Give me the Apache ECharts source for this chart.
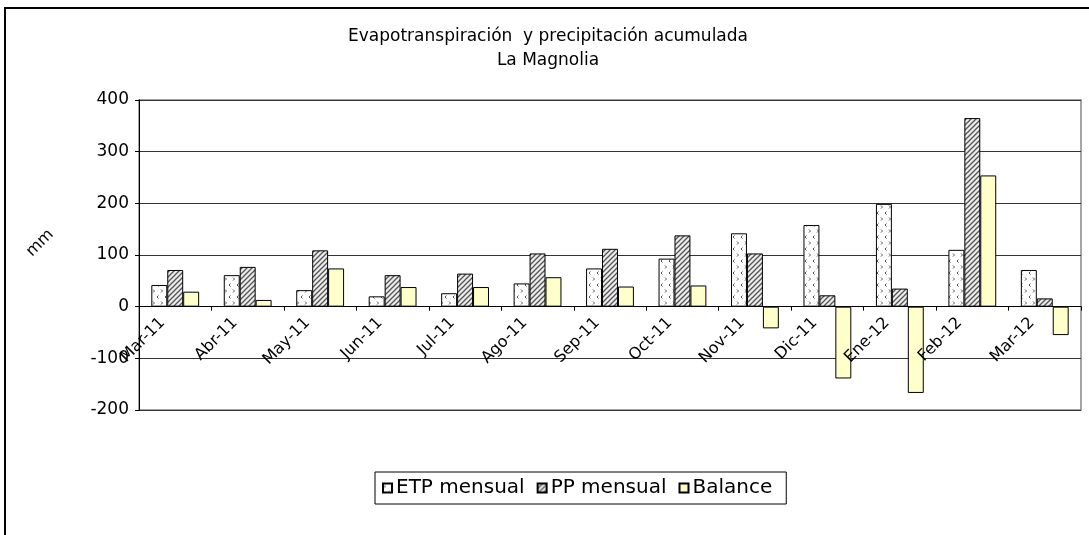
<!DOCTYPE html>
<html>
<head>
<meta charset="utf-8">
<script src="https://cdn.jsdelivr.net/npm/echarts@6/dist/echarts.min.js"></script>
<style>
html,body{margin:0;padding:0;background:#fff;}
#chart{width:1089px;height:535px;}
</style>
</head>
<body>
<div id="chart"></div>
<script>
const categories = ['Mar-11','Abr-11','May-11','Jun-11','Jul-11','Ago-11','Sep-11','Oct-11','Nov-11','Dic-11','Ene-12','Feb-12','Mar-12'];
const etpMensual = [42, 61, 32, 20, 26, 45, 74, 93, 142, 158, 199, 110, 71];
const ppMensual  = [71, 77, 109, 61, 64, 103, 112, 138, 103, 22, 35, 365, 16];
const balance    = [29, 13, 74, 38, 38, 57, 39, 41, -42, -139, -167, 254, -55];
const yTicks = [-200, -100, 0, 100, 200, 300, 400];
const titleLines = ['Evapotranspiración  y precipitación acumulada', 'La Magnolia'];
const seriesNames = ['ETP mensual', 'PP mensual', 'Balance'];
const yAxisName = 'mm';

function dotPattern() {
  const c = document.createElement('canvas');
  c.width = 8; c.height = 12;
  const g = c.getContext('2d');
  g.fillStyle = '#ffffff'; g.fillRect(0, 0, 8, 12);
  g.strokeStyle = '#555'; g.lineWidth = 1;
  g.beginPath(); g.moveTo(1, 1.5); g.lineTo(2.5, 3); g.lineTo(1, 4.5); g.stroke();
  g.beginPath(); g.moveTo(6.5, 7.5); g.lineTo(5, 9); g.lineTo(6.5, 10.5); g.stroke();
  return c;
}
function hatchPattern() {
  const c = document.createElement('canvas');
  c.width = 5; c.height = 5;
  const g = c.getContext('2d');
  g.fillStyle = '#ececec'; g.fillRect(0, 0, 5, 5);
  g.strokeStyle = '#555'; g.lineWidth = 1.3;
  g.beginPath(); g.moveTo(-1, 6); g.lineTo(6, -1); g.stroke();
  g.beginPath(); g.moveTo(-1, 1); g.lineTo(1, -1); g.stroke();
  g.beginPath(); g.moveTo(4, 6); g.lineTo(6, 4); g.stroke();
  return c;
}

const gridTop = 100, gridBottomY = 410;
const yMin = yTicks[0], yMax = yTicks[yTicks.length - 1];
const zeroY = gridTop + (yMax - 0) / (yMax - yMin) * (gridBottomY - gridTop);

const chart = echarts.init(document.getElementById('chart'), null, {renderer: 'canvas'});
const font = 'DejaVu Sans, Verdana, sans-serif';
const barStyle = (fill) => ({color: fill, borderColor: '#000', borderWidth: 1});

chart.setOption({
  animation: false,
  backgroundColor: '#fff',
  textStyle: {fontFamily: font, color: '#000'},
  title: {
    text: titleLines.join('\n'),
    left: 543, top: 20, textAlign: 'center',
    textStyle: {fontFamily: font, fontSize: 17, fontWeight: 'normal', color: '#000', lineHeight: 24}
  },
  grid: {left: 139, right: 8, top: gridTop, bottom: 535 - gridBottomY, show: true, borderColor: '#888', borderWidth: 1.5, backgroundColor: 'transparent'},
  legend: {
    data: seriesNames,
    left: 375, top: 472,
    orient: 'horizontal',
    itemWidth: 9, itemHeight: 9, itemGap: 12,
    borderColor: '#000', borderWidth: 1, padding: [6, 14, 6, 7],
    textStyle: {fontFamily: font, fontSize: 20, color: '#000', padding: [0, 0, 0, -1]},
    icon: 'rect'
  },
  xAxis: {
    type: 'category',
    data: categories,
    z: 10,
    offset: zeroY - gridBottomY,
    axisLine: {onZero: false, lineStyle: {color: '#000', width: 1}},
    axisTick: {show: true, alignWithLabel: false, length: 4, lineStyle: {color: '#000'}},
    axisLabel: {interval: 0, rotate: 45, margin: 1, padding: [0, 18, 0, 0], fontFamily: font, fontSize: 16, color: '#000'},
    splitLine: {show: false}
  },
  yAxis: {
    type: 'value',
    min: yMin, max: yMax, interval: 100,
    axisLine: {show: true, lineStyle: {color: '#000', width: 1}},
    axisTick: {show: true, length: 4, lineStyle: {color: '#000'}},
    axisLabel: {fontFamily: font, fontSize: 17, color: '#000', margin: 10},
    splitLine: {show: true, lineStyle: {color: '#333', width: 1}}
  },
  graphic: [
    {type: 'rect', shape: {x: 5, y: 8, width: 1200, height: 700}, style: {fill: 'none', stroke: '#000', lineWidth: 2}, silent: true, z: 100},
    {type: 'text', x: 40, y: 243, rotation: Math.PI / 4, style: {text: yAxisName, fontFamily: font, fontSize: 16, fill: '#000', align: 'center', verticalAlign: 'middle'}, silent: true}
  ],
  series: [
    {name: seriesNames[0], type: 'bar', data: etpMensual, barCategoryGap: '34%', barGap: '0%', itemStyle: barStyle({image: dotPattern(), repeat: 'repeat'})},
    {name: seriesNames[1], type: 'bar', data: ppMensual, barCategoryGap: '34%', barGap: '0%', itemStyle: barStyle({image: hatchPattern(), repeat: 'repeat'})},
    {name: seriesNames[2], type: 'bar', data: balance, barCategoryGap: '34%', barGap: '0%', itemStyle: barStyle('#FFFFCC')}
  ]
});
</script>
</body>
</html>
